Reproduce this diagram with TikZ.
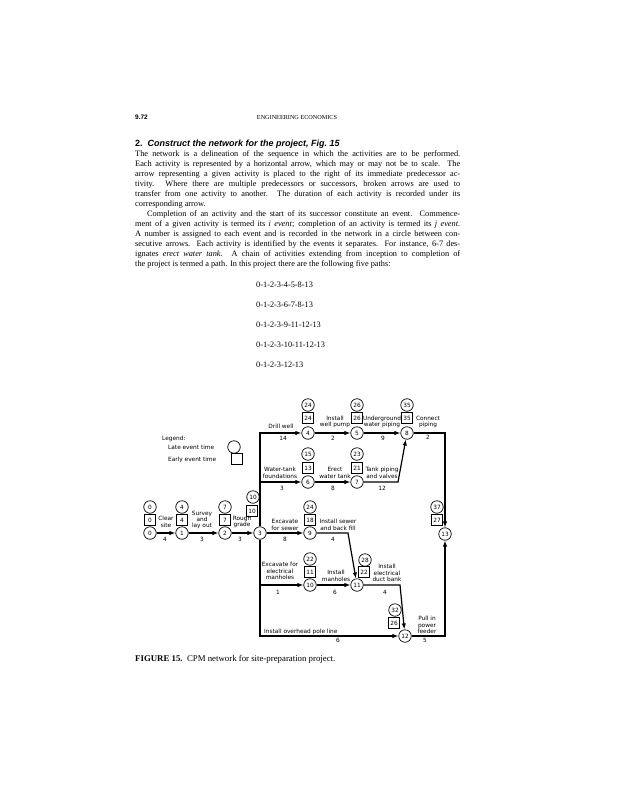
\documentclass[tikz,border=0pt]{standalone}
\usepackage{fontspec}
\setmainfont{Liberation Serif}
\setsansfont{Liberation Sans}
\newfontfamily\letfont{DejaVu Sans}
\usetikzlibrary{arrows.meta}
\newcommand{\dfont}{\letfont\fontsize{5.8}{6.4}\selectfont}

\begin{document}
\begin{tikzpicture}[x=1pt, y=-1pt,
  ev/.style={circle, draw, line width=0.7pt, minimum size=12.5pt, inner sep=0pt, font=\dfont},
  late/.style={ev},
  early/.style={draw, line width=0.7pt, minimum size=10.5pt, inner sep=0pt, font=\dfont},
  act/.style={line width=1.2pt, -{Latex[length=6pt, width=4.5pt]}},
  lbl/.style={font=\dfont, align=center, inner sep=0pt},
  txt/.style={anchor=base west, inner sep=0pt, font=\fontsize{8.3}{10}\selectfont}]
  \useasboundingbox (0,0) rectangle (617,800);
  % page head and text
  \node[anchor=base west, inner sep=0pt, font=\sffamily\bfseries\fontsize{6.5}{8}\selectfont] (pgno) at (135,119) {9.72};
  \node[anchor=base, inner sep=0pt, font=\fontsize{6.2}{7}\selectfont] (runhead) at (297,119) {ENGINEERING ECONOMICS};
  \node[txt, font=\sffamily\bfseries\fontsize{9}{10}\selectfont] (head) at (135,146)
     {2.\ \ \textit{Construct the network for the project, Fig.~15}};
  \node[txt, text width=325pt, align=justify] (body) at (135,156) {%
     The network is a delineation of the sequence in which the activities are to be performed.\linebreak
     Each activity is represented by a horizontal arrow, which may or may not be to scale. The\linebreak
     arrow representing a given activity is placed to the right of its immediate predecessor ac-\linebreak
     tivity. Where there are multiple predecessors or successors, broken arrows are used to\linebreak
     transfer from one activity to another. The duration of each activity is recorded under its\linebreak
     corresponding arrow.\par
     \hspace*{12pt}Completion of an activity and the start of its successor constitute an event. Commence-\linebreak
     ment of a given activity is termed its \textit{i event}; completion of an activity is termed its \textit{j event}.\linebreak
     A number is assigned to each event and is recorded in the network in a circle between con-\linebreak
     secutive arrows. Each activity is identified by the events it separates. For instance, 6-7 des-\linebreak
     ignates \textit{erect water tank}. A chain of activities extending from inception to completion of\linebreak
     the project is termed a path. In this project there are the following five paths:};
  \foreach \k/\p in {0/0-1-2-3-4-5-8-13, 1/0-1-2-3-6-7-8-13, 2/0-1-2-3-9-11-12-13, 3/0-1-2-3-10-11-12-13, 4/0-1-2-3-12-13}
     \node[txt] (path\k) at (256,{287+20*\k}) {\p};
  \node[txt, font=\fontsize{8.8}{10}\selectfont] (caption) at (135,661) {\textbf{FIGURE 15.}\ \ CPM network for site-preparation project.};
  % legend
  \node[anchor=base west, inner sep=0pt, font=\dfont] (leg) at (162,440) {Legend:};
  \node[anchor=base west, inner sep=0pt, font=\dfont] (legl) at (168,449) {Late event time};
  \node[anchor=base west, inner sep=0pt, font=\dfont] (lege) at (168,461) {Early event time};
  \node[late] (legc) at (234,447) {};
  \node[early] (legb) at (237,459) {};
  % events
  \foreach \i/\x/\y in {0/150/533, 1/182/533, 2/225/533, 3/260/533, 4/308/433, 5/357/433, 6/308/482,
                        7/357/482, 8/407/433, 9/310/533, 10/310/585, 11/357/585, 12/405/636, 13/445/534}
     \node[ev] (e\i) at (\x,\y) {\i};
  % late and early event times
  \foreach \i/\lx/\ly/\l/\bx/\by/\b in {0/150/507/0/150/520/0, 1/182/507/4/182/520/4, 2/225/507/7/225/520/7,
        3/253/497/10/252/511/10, 4/308/405/24/308/418/24, 5/357/405/26/357/418/26, 8/407/405/35/407/418/35,
        6/308/454/15/308/468/13, 7/357/454/23/357/468/21, 9/310/507/24/310/520/18, 10/310/559/22/310/572/11,
        11/365/560/28/364/572/22, 12/395/610/32/394/623/26, 13/437/507/37/437/520/27}
  {
     \node[late] (l\i) at (\lx,\ly) {\l};
     \node[early] (b\i) at (\bx,\by) {\b};
  }
  % activities
  \coordinate (k7) at (398,482);
  \coordinate (k9) at (348,533);
  \coordinate (k11) at (400,585);
  \foreach \a/\b in {0/1, 1/2, 2/3, 3/9, 4/5, 5/8, 6/7, 10/11}
     \draw[act] (e\a) -- (e\b);
  \foreach \b in {4, 6, 10, 12}
     \draw[act] (e3) |- (e\b);
  \draw[act] (e7) -- (k7) -- (e8);
  \draw[act] (e9) -- (k9) -- (e11);
  \draw[act] (e11) -- (k11) -- (e12);
  \draw[act] (e8) -| (e13);
  \draw[act] (e12) -| (e13);
  % activity names
  \foreach \n/\x/\y/\t in {01/166/522/{Clear\\site}, 12/202/520/{Survey\\and\\lay out}, 23/242/522/{Rough\\grade},
        34/281/426/{Drill well}, 45/335/422/{Install\\well pump}, 58/382/422/{Underground\\water piping},
        813/428/422/{Connect\\piping}, 36/280/473/{Water-tank\\foundations}, 67/335/473/{Erect\\water tank},
        78/382/473/{Tank piping\\and valves}, 39/285/525/{Excavate\\for sewer}, 911/338/525/{Install sewer\\and back fill},
        310/280/571/{Excavate for\\electrical\\manholes}, 1011/336/576/{Install\\manholes},
        1112/387/573/{Install\\electrical\\duct bank}, 1213/427/625/{Pull in\\power\\feeder}}
     \node[lbl] (n\n) at (\x,\y) {\t};
  \node[lbl, anchor=west] (n312) at (264,632) {Install overhead pole line};
  % durations
  \foreach \n/\x/\y/\d in {01/165/539/4, 12/202/539/3, 23/240/539/3, 34/283/438/14, 45/333/438/2, 58/383/438/9,
        813/428/437/2, 36/282/488/3, 67/333/488/8, 78/382/488/12, 39/285/539/8, 911/333/539/4,
        310/278/592/1, 1011/335/592/6, 1112/385/592/4, 312/338/640/6, 1213/425/640/5}
     \node[lbl] (d\n) at (\x,\y) {\d};
\end{tikzpicture}
\end{document}
